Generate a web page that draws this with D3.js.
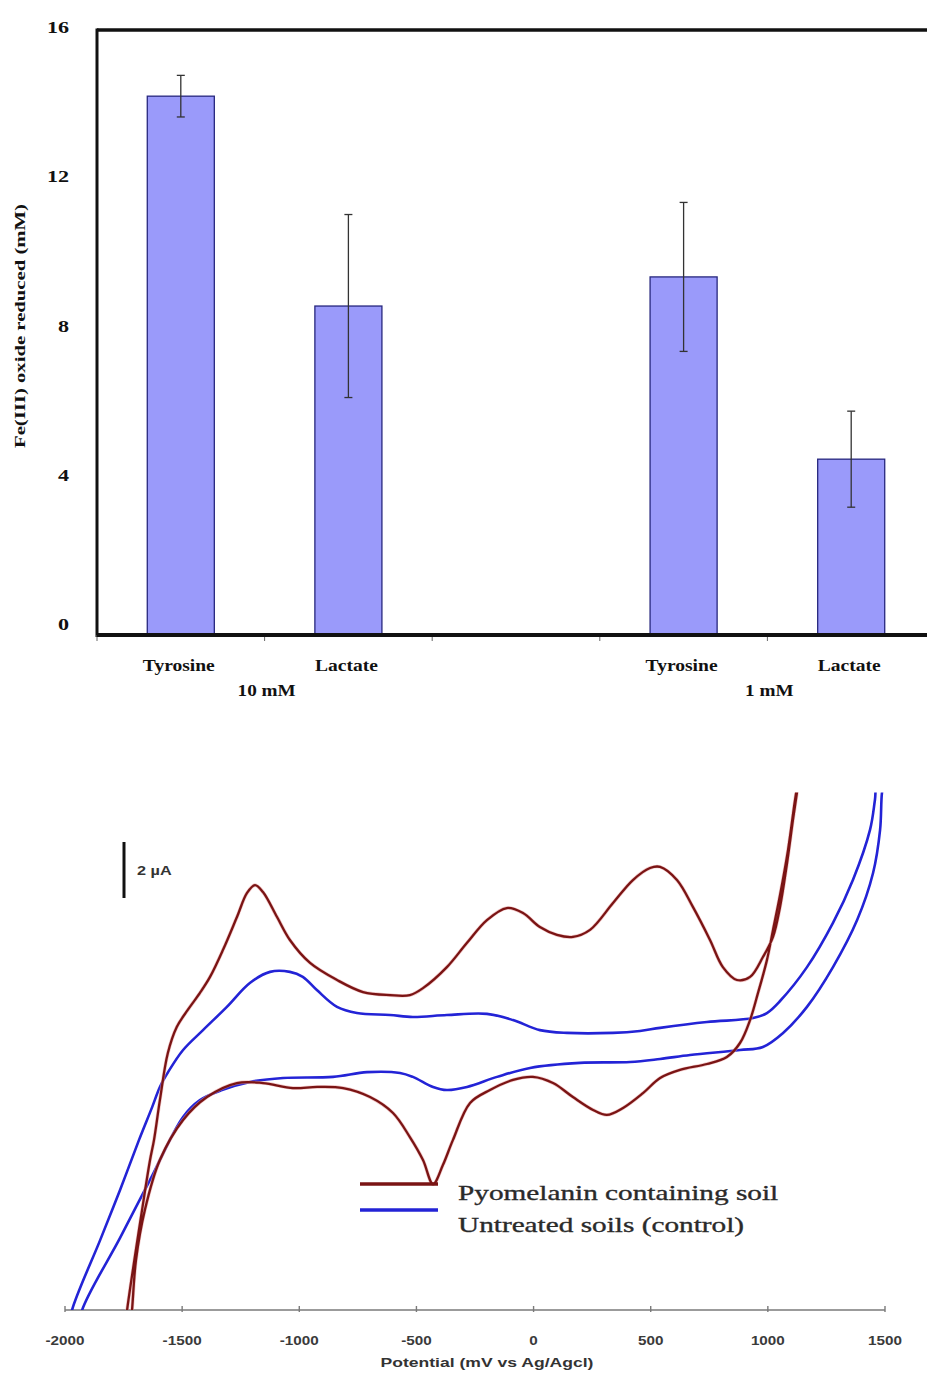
<!DOCTYPE html>
<html><head><meta charset="utf-8">
<script src="https://cdn.jsdelivr.net/npm/d3@7"></script>
<style>body{margin:0;background:#fff} svg{display:block}</style>
</head><body>
<svg id="c" width="927" height="1373"></svg>
<script>
// ---------- Data: bar chart ----------
const categories = ["Tyrosine", "Lactate", "", "Tyrosine", "Lactate"];
const groupLabels = ["10 mM", "1 mM"];
const means  = [14.25, 8.70, null, 9.47, 4.65];
const errors = [0.55, 2.42, null, 1.97, 1.27];
const yTicks = [0, 4, 8, 12, 16];

// ---------- Data: cyclic voltammograms [potential mV, current µA] ----------
const xTicks = [-2000, -1500, -1000, -500, 0, 500, 1000, 1500];
const pyomelanin = [
  [-1744,-10.0],[-1735,-9.29],[-1671,-5.71],[-1637,-3.93],[-1620,-3.21],[-1595,-1.79],[-1561,-0.11],
  [-1523,0.82],[-1476,1.43],[-1424,2.04],[-1381,2.61],[-1326,3.57],[-1266,4.75],[-1223,5.61],
  [-1189,5.89],[-1155,5.64],[-1095,4.75],[-1040,3.93],[-954,3.11],[-839,2.50],[-728,2.07],
  [-613,1.96],[-528,1.96],[-472,2.21],[-370,2.96],[-285,3.82],[-199,4.64],[-114,5.07],[-45,4.89],
  [27,4.39],[100,4.11],[168,4.04],[241,4.29],[339,5.25],[424,6.07],[497,6.50],[540,6.54],
  [612,6.07],[680,5.11],[753,3.93],[808,2.96],[868,2.50],[924,2.61],[979,3.32],[1022,4.04],
  [1052,5.11],[1082,6.68],[1107,8.21],[1124,9.18],[1137,10.0],
  [1116,8.93],[1086,7.14],[1052,5.54],[1022,4.29],[996,3.21],[958,2.04],[924,1.07],[881,0.25],
  [825,-0.25],[740,-0.50],[625,-0.71],[540,-1.00],[467,-1.54],[382,-2.07],[313,-2.32],[254,-2.14],
  [168,-1.68],[83,-1.18],[-3,-0.96],[-88,-1.07],[-186,-1.43],[-271,-1.89],[-344,-3.21],[-387,-4.11],
  [-429,-4.79],[-472,-3.93],[-528,-3.11],[-600,-2.25],[-698,-1.68],[-813,-1.36],[-924,-1.32],
  [-1027,-1.36],[-1155,-1.18],[-1266,-1.18],[-1394,-1.68],[-1496,-2.50],[-1595,-3.93],[-1659,-5.71],
  [-1697,-7.50],[-1714,-9.29],[-1723,-10.0]
];
const control = [
  [-1983,-10.0],[-1970,-9.29],[-1850,-6.79],[-1765,-5.00],[-1684,-3.21],[-1628,-2.04],[-1595,-1.32],
  [-1560,-0.79],[-1496,0.00],[-1411,0.71],[-1309,1.54],[-1211,2.39],[-1125,2.79],[-1040,2.79],
  [-985,2.61],[-925,2.14],[-839,1.54],[-754,1.32],[-613,1.25],[-515,1.18],[-370,1.25],[-199,1.29],
  [-88,1.07],[27,0.71],[143,0.61],[339,0.61],[454,0.68],[540,0.79],[740,1.00],[937,1.14],[996,1.32],
  [1052,1.75],[1167,2.96],[1278,4.54],[1363,6.07],[1436,7.86],[1457,8.93],[1470,9.82],
  [1500,9.82],[1487,9.18],[1479,7.86],[1449,6.32],[1381,4.64],[1278,2.96],[1167,1.54],[1065,0.61],
  [979,0.11],[881,0.00],[668,-0.18],[540,-0.32],[412,-0.43],[198,-0.46],[-15,-0.64],[-156,-0.96],
  [-284,-1.32],[-370,-1.43],[-429,-1.32],[-515,-0.96],[-570,-0.82],[-711,-0.79],[-856,-0.96],
  [-1069,-1.00],[-1210,-1.14],[-1330,-1.43],[-1424,-1.79],[-1496,-2.39],[-1637,-4.64],[-1765,-6.71],
  [-1927,-9.29],[-1940,-10.0]
];
const seriesNames = ["Pyomelanin containing soil", "Untreated soils (control)"];
const scaleBarValue = 2; // µA

// ---------- Helpers ----------
const svg = d3.select("#c");
function stretch(sel, f) {
  sel.each(function () {
    const w = this.getComputedTextLength();
    this.setAttribute("textLength", w * f);
    this.setAttribute("lengthAdjust", "spacingAndGlyphs");
  });
}

// ---------- Bar chart ----------
const x = d3.scaleBand().domain(d3.range(categories.length)).range([97, 935])
  .paddingInner(0.6).paddingOuter(0.3);
const y = d3.scaleLinear().domain([0, 16]).range([635, 30]);
const yLab = d3.scaleLinear().domain([0, 16]).range([624, 27]);
const serif = "'Liberation Serif','Times New Roman',serif";

const gTop = svg.append("g");
const barData = means.map((m, i) => ({ i, m, e: errors[i] })).filter(d => d.m != null);

gTop.selectAll("rect.bar").data(barData).join("rect")
  .attr("x", d => x(d.i)).attr("width", x.bandwidth())
  .attr("y", d => y(d.m)).attr("height", d => y(0) - y(d.m))
  .attr("fill", "#9a9afa").attr("stroke", "#27277e").attr("stroke-width", 1.3);

const eb = gTop.selectAll("g.err").data(barData).join("g").attr("stroke", "#333").attr("stroke-width", 1.3);
eb.append("line").attr("x1", d => x(d.i) + x.bandwidth() / 2).attr("x2", d => x(d.i) + x.bandwidth() / 2)
  .attr("y1", d => y(d.m + d.e)).attr("y2", d => y(d.m - d.e));
eb.append("line").attr("x1", d => x(d.i) + x.bandwidth() / 2 - 4).attr("x2", d => x(d.i) + x.bandwidth() / 2 + 4)
  .attr("y1", d => y(d.m + d.e)).attr("y2", d => y(d.m + d.e));
eb.append("line").attr("x1", d => x(d.i) + x.bandwidth() / 2 - 4).attr("x2", d => x(d.i) + x.bandwidth() / 2 + 4)
  .attr("y1", d => y(d.m - d.e)).attr("y2", d => y(d.m - d.e));

// frame
const x0 = x.range()[0], x1 = x.range()[1];
gTop.append("line").attr("x1", x0).attr("x2", x1).attr("y1", y(16)).attr("y2", y(16))
  .attr("stroke", "#111").attr("stroke-width", 3.5);
gTop.append("line").attr("x1", x0).attr("x2", x0).attr("y1", y(16) - 1.5).attr("y2", y(0) + 2)
  .attr("stroke", "#111").attr("stroke-width", 3);
gTop.selectAll("line.ct").data(d3.range(categories.length + 1)).join("line")
  .attr("x1", k => x0 + k * x.step()).attr("x2", k => x0 + k * x.step())
  .attr("y1", y(0)).attr("y2", y(0) + 6).attr("stroke", "#666").attr("stroke-width", 1);
gTop.append("line").attr("x1", x0).attr("x2", x1).attr("y1", y(0)).attr("y2", y(0))
  .attr("stroke", "#111").attr("stroke-width", 4);

// y tick labels
gTop.selectAll("text.yt").data(yTicks).join("text")
  .attr("x", 69).attr("y", d => yLab(d) + 6).attr("text-anchor", "end")
  .attr("font-family", serif).attr("font-weight", "bold").attr("font-size", 17).attr("fill", "#111")
  .text(d => d).call(stretch, 1.3);

// y title
gTop.append("text").attr("transform", "translate(25,326) rotate(-90)").attr("text-anchor", "middle")
  .attr("font-family", serif).attr("font-weight", "bold").attr("font-size", 15).attr("fill", "#111")
  .text("Fe(III) oxide reduced (mM)").call(stretch, 1.38);

// category labels
gTop.selectAll("text.cat").data(categories.map((c, i) => ({ c, i })).filter(d => d.c)).join("text")
  .attr("x", d => x(d.i) + x.bandwidth() / 2 - 2).attr("y", 671).attr("text-anchor", "middle")
  .attr("font-family", serif).attr("font-weight", "bold").attr("font-size", 16).attr("fill", "#111")
  .text(d => d.c).call(stretch, 1.22);
const groupCenters = [[0, 1], [3, 4]].map(([a, b]) => (x(a) + x(b)) / 2 + x.bandwidth() / 2);
gTop.selectAll("text.grp").data(groupLabels).join("text")
  .attr("x", (d, i) => groupCenters[i] + 2).attr("y", 696).attr("text-anchor", "middle")
  .attr("font-family", serif).attr("font-weight", "bold").attr("font-size", 16).attr("fill", "#111")
  .text(d => d).call(stretch, 1.2);

// ---------- CV chart ----------
const xCV = d3.scaleLinear().domain([-2000, 1500]).range([65, 885]);
const yCV = d3.scaleLinear().domain([-9.286, 9.286]).range([1310, 790]);
const sans = "'Liberation Sans',Arial,sans-serif";
const gBot = svg.append("g");

svg.append("defs").append("clipPath").attr("id", "cvclip")
  .append("rect").attr("x", 30).attr("y", yCV(9.2)).attr("width", 897).attr("height", yCV(-9.286) - yCV(9.2));

gBot.append("line").attr("x1", xCV(-2000)).attr("x2", xCV(1500)).attr("y1", yCV(-9.286)).attr("y2", yCV(-9.286))
  .attr("stroke", "#7a7a7a").attr("stroke-width", 1.6);
gBot.selectAll("line.xt").data(xTicks).join("line")
  .attr("x1", d => xCV(d)).attr("x2", d => xCV(d))
  .attr("y1", yCV(-9.286) - 4).attr("y2", yCV(-9.286) + 2).attr("stroke", "#7a7a7a").attr("stroke-width", 1.4);
gBot.selectAll("text.xl").data(xTicks).join("text")
  .attr("x", d => xCV(d)).attr("y", 1345).attr("text-anchor", "middle")
  .attr("font-family", sans).attr("font-weight", "bold").attr("font-size", 12.5).attr("fill", "#3a3a3a")
  .text(d => d).call(stretch, 1.22);
gBot.append("text").attr("x", 487).attr("y", 1367).attr("text-anchor", "middle")
  .attr("font-family", sans).attr("font-weight", "bold").attr("font-size", 13.5).attr("fill", "#333")
  .text("Potential (mV vs Ag/Agcl)").call(stretch, 1.3);

const line = d3.line().x(d => xCV(d[0])).y(d => yCV(d[1])).curve(d3.curveCatmullRom.alpha(0.5));
const curves = gBot.append("g").attr("clip-path", "url(#cvclip)").attr("fill", "none");
curves.append("path").datum(control).attr("d", line).attr("stroke", "#2323d6").attr("stroke-width", 2.6);
curves.append("path").datum(pyomelanin).attr("d", line).attr("stroke", "#e8a0a0").attr("stroke-width", 3.6).attr("opacity", 0.6);
curves.append("path").datum(pyomelanin).attr("d", line).attr("stroke", "#7a1414").attr("stroke-width", 2.3);

// scale bar
const sbTop = 842;
gBot.append("line").attr("x1", 124).attr("x2", 124)
  .attr("y1", sbTop).attr("y2", sbTop + (yCV(0) - yCV(scaleBarValue)))
  .attr("stroke", "#111").attr("stroke-width", 3);
gBot.append("text").attr("x", 137).attr("y", 875)
  .attr("font-family", sans).attr("font-weight", "bold").attr("font-size", 13).attr("fill", "#333")
  .text(scaleBarValue + " µA").call(stretch, 1.25);

// legend
const legColors = ["#7a1414", "#2323d6"];
const leg = gBot.selectAll("g.leg").data(seriesNames).join("g");
leg.append("line").attr("x1", 360).attr("x2", 438)
  .attr("y1", (d, i) => 1184 + i * 26).attr("y2", (d, i) => 1184 + i * 26)
  .attr("stroke", (d, i) => legColors[i]).attr("stroke-width", 3.5);
leg.append("text").attr("x", 458).attr("y", (d, i) => 1200 + i * 32)
  .attr("font-family", serif).attr("font-size", 22).attr("fill", "#2a2a2a")
  .attr("stroke", "#2a2a2a").attr("stroke-width", 0.35)
  .text(d => d).call(stretch, 1.33);
</script>
</body></html>
